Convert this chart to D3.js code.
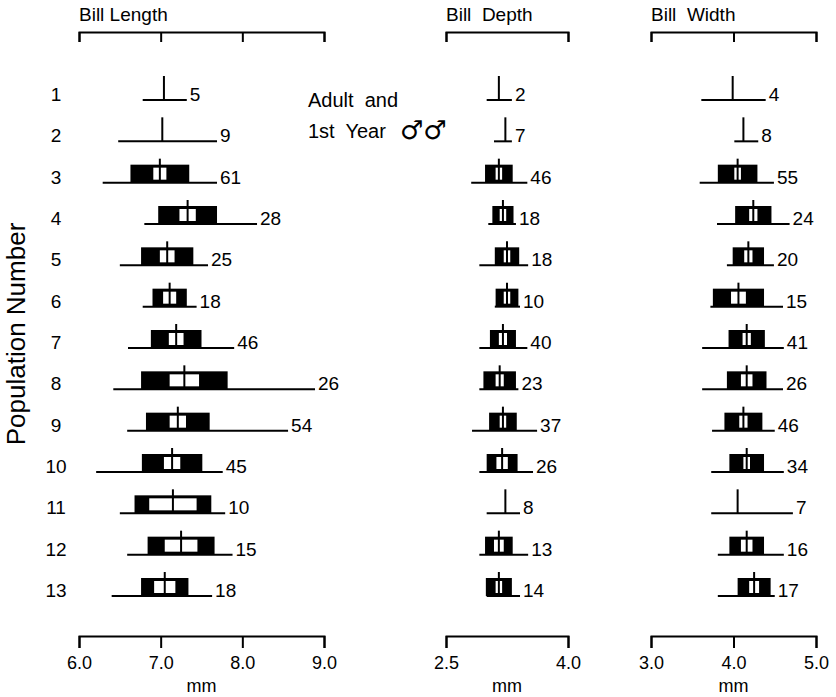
<!DOCTYPE html>
<html>
<head>
    <script src="https://d3js.org/d3.v7.min.js"></script>
    <title>Bill dimensions by population</title>
    <style>
        body { margin: 0; background: #fff; }
        svg text { font-family: "Liberation Sans", Arial, sans-serif; fill: #000; }
    </style>
</head>
<body>
<div id="chart"></div>
<script>
    // population numbers (rows)
    var populations = [1, 2, 3, 4, 5, 6, 7, 8, 9, 10, 11, 12, 13];

    // Bill Length (mm): mean, black bar half width, white bar half width, range, sample size
    var lenMean = [7.04, 7.02, 6.99, 7.33, 7.08, 7.11, 7.19, 7.29, 7.21, 7.14, 7.15, 7.25, 7.05];
    var lenSD   = [null, null, 0.36, 0.36, 0.32, 0.21, 0.31, 0.53, 0.39, 0.37, 0.47, 0.41, 0.29];
    var lenCI   = [null, null, 0.08, 0.10, 0.09, 0.08, 0.09, 0.18, 0.10, 0.10, 0.29, 0.20, 0.13];
    var lenMin  = [6.78, 6.48, 6.29, 6.80, 6.50, 6.78, 6.60, 6.42, 6.59, 6.21, 6.50, 6.59, 6.40];
    var lenMax  = [7.32, 7.69, 7.69, 8.18, 7.58, 7.44, 7.90, 8.89, 8.56, 7.76, 7.79, 7.88, 7.63];
    var lenN    = [5, 9, 61, 28, 25, 18, 46, 26, 54, 45, 10, 15, 18];

    // Bill Depth (mm)
    var depMean = [3.15, 3.23, 3.15, 3.20, 3.25, 3.25, 3.20, 3.16, 3.20, 3.19, 3.23, 3.15, 3.15];
    var depSD   = [null, null, 0.17, 0.13, 0.15, 0.14, 0.16, 0.20, 0.17, 0.19, null, 0.17, 0.16];
    var depCI   = [null, null, 0.04, 0.04, 0.04, 0.04, 0.05, 0.05, 0.04, 0.07, null, 0.06, 0.04];
    var depMin  = [3.00, 3.09, 2.81, 3.02, 2.91, 3.10, 2.91, 2.91, 2.82, 2.91, 3.00, 2.91, 3.00];
    var depMax  = [3.31, 3.31, 3.50, 3.36, 3.51, 3.41, 3.50, 3.39, 3.62, 3.57, 3.41, 3.51, 3.41];
    var depN    = [2, 7, 46, 18, 18, 10, 40, 23, 37, 26, 8, 13, 14];

    // Bill Width (mm)
    var widMean = [3.99, 4.12, 4.05, 4.24, 4.18, 4.06, 4.16, 4.16, 4.12, 4.16, 4.05, 4.16, 4.25];
    var widSD   = [null, null, 0.24, 0.22, 0.19, 0.31, 0.22, 0.24, 0.23, 0.21, null, 0.21, 0.20];
    var widCI   = [null, null, 0.04, 0.05, 0.05, 0.09, 0.05, 0.07, 0.05, 0.04, null, 0.07, 0.06];
    var widMin  = [3.61, 4.01, 3.59, 3.80, 3.92, 3.72, 3.62, 3.62, 3.74, 3.73, 3.73, 3.81, 3.81];
    var widMax  = [4.39, 4.30, 4.49, 4.68, 4.49, 4.60, 4.61, 4.60, 4.50, 4.61, 4.72, 4.61, 4.50];
    var widN    = [4, 8, 55, 24, 20, 15, 41, 26, 46, 34, 7, 16, 17];

    // axis tick values
    var lenTicks = [6.0, 7.0, 8.0, 9.0];
    var depTicks = [2.5, 4.0];
    var widTicks = [3.0, 4.0, 5.0];

    var width = 836, height = 697;

    var svg = d3.select('#chart').append('svg')
        .attr('width', width)
        .attr('height', height);

    var y = d3.scaleLinear().domain([1, 13]).range([100, 596]);

    var panels = [
        { title: 'Bill Length', x: d3.scaleLinear().domain([6, 9]).range([79, 324]), ticks: lenTicks,
          mean: lenMean, sd: lenSD, ci: lenCI, min: lenMin, max: lenMax, n: lenN },
        { title: 'Bill  Depth', x: d3.scaleLinear().domain([2.5, 4]).range([446, 568]), ticks: depTicks,
          mean: depMean, sd: depSD, ci: depCI, min: depMin, max: depMax, n: depN },
        { title: 'Bill  Width', x: d3.scaleLinear().domain([3, 5]).range([651, 816]), ticks: widTicks,
          mean: widMean, sd: widSD, ci: widCI, min: widMin, max: widMax, n: widN }
    ];

    var topY = 32, bottomY = 636;

    panels.forEach(function(p) {
        // top bracket
        var top = svg.append('g')
            .attr('transform', 'translate(0,' + topY + ')')
            .call(d3.axisBottom(p.x).tickValues(p.ticks).tickSize(10).tickFormat(''));
        top.select('.domain').attr('stroke-width', 2);
        top.selectAll('.tick line').attr('stroke-width', 2);

        svg.append('text')
            .attr('x', p.x.range()[0])
            .attr('y', 21)
            .style('font-size', '19px')
            .style('white-space', 'pre')
            .text(p.title);

        // bottom axis
        var bot = svg.append('g')
            .attr('transform', 'translate(0,' + bottomY + ')')
            .call(d3.axisBottom(p.x).tickValues(p.ticks).tickSize(12).tickPadding(8).tickFormat(d3.format('.1f')));
        bot.select('.domain').attr('stroke-width', 2);
        bot.selectAll('.tick line').attr('stroke-width', 2);
        bot.selectAll('.tick text')
            .style('font-size', '18px')
            .style('font-family', '"Liberation Sans", Arial, sans-serif');

        svg.append('text')
            .attr('x', d3.mean(p.x.range()))
            .attr('y', 692)
            .attr('text-anchor', 'middle')
            .style('font-size', '18px')
            .text('mm');

        // rows
        var rows = svg.append('g').selectAll('g')
            .data(populations)
            .enter().append('g')
            .attr('transform', function(d) { return 'translate(0,' + y(d) + ')'; });

        rows.append('line')
            .attr('x1', function(d, i) { return p.x(p.min[i]); })
            .attr('x2', function(d, i) { return p.x(p.max[i]); })
            .attr('stroke', '#000')
            .attr('stroke-width', 2);

        var boxed = rows.filter(function(d, i) { return p.sd[i] != null; });

        boxed.append('rect')
            .attr('x', function(d) { var i = d - 1; return p.x(p.mean[i] - p.sd[i]); })
            .attr('width', function(d) { var i = d - 1; return p.x(p.mean[i] + p.sd[i]) - p.x(p.mean[i] - p.sd[i]); })
            .attr('y', -18)
            .attr('height', 18)
            .attr('fill', '#000');

        boxed.append('rect')
            .attr('x', function(d) { var i = d - 1; return p.x(p.mean[i] - p.ci[i]); })
            .attr('width', function(d) { var i = d - 1; return p.x(p.mean[i] + p.ci[i]) - p.x(p.mean[i] - p.ci[i]); })
            .attr('y', -15)
            .attr('height', 12)
            .attr('fill', '#fff');

        rows.append('line')
            .attr('x1', function(d, i) { return p.x(p.mean[i]); })
            .attr('x2', function(d, i) { return p.x(p.mean[i]); })
            .attr('y1', -24)
            .attr('y2', 0)
            .attr('stroke', '#000')
            .attr('stroke-width', 2);

        rows.append('text')
            .attr('x', function(d, i) { return p.x(p.max[i]) + 3; })
            .attr('y', 1)
            .style('font-size', '19px')
            .text(function(d, i) { return p.n[i]; });
    });

    // population numbers
    svg.append('g').selectAll('text')
        .data(populations)
        .enter().append('text')
        .attr('x', 56)
        .attr('y', function(d) { return y(d) + 1; })
        .attr('text-anchor', 'middle')
        .style('font-size', '19px')
        .text(function(d) { return d; });

    svg.append('text')
        .attr('transform', 'translate(25,' + 334 + ') rotate(-90)')
        .attr('text-anchor', 'middle')
        .style('font-size', '26px')
        .text('Population  Number');

    // note
    svg.append('text')
        .attr('x', 308)
        .attr('y', 107)
        .style('font-size', '20px')
        .style('white-space', 'pre')
        .text('Adult  and');
    svg.append('text')
        .attr('x', 308)
        .attr('y', 138)
        .style('font-size', '20px')
        .style('white-space', 'pre')
        .text('1st  Year');
    svg.append('text')
        .attr('x', 400)
        .attr('y', 139)
        .style('font-size', '26px')
        .style('font-family', '"DejaVu Sans", sans-serif')
        .text('\u2642\u2642');
</script>
</body>
</html>
